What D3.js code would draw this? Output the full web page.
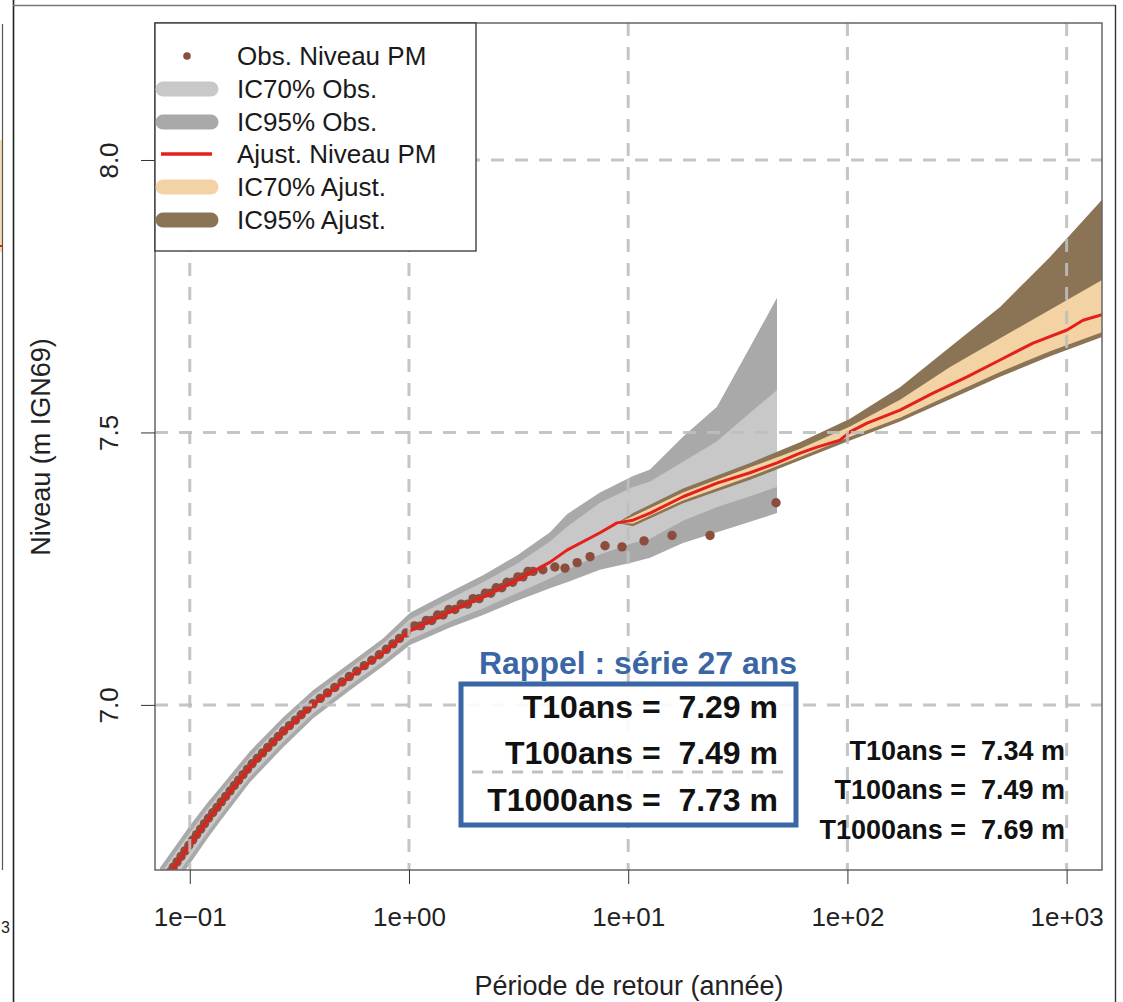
<!DOCTYPE html>
<html><head><meta charset="utf-8">
<script src="https://cdn.jsdelivr.net/npm/d3@7"></script>
<style>
body{margin:0;background:#fff}
svg text{font-family:"Liberation Sans",Arial,sans-serif}
</style>
</head><body>
<svg id="c" width="1123" height="1002"></svg>
<script>
// ---------------- DATA ----------------
const xTicks = [0.1, 1, 10, 100, 1000];
const xTickLabels = ["1e\u221201", "1e+00", "1e+01", "1e+02", "1e+03"];
const yTicks = [7.0, 7.5, 8.0];
const yTickLabels = ["7.0", "7.5", "8.0"];
const xTitle = "Période de retour (année)";
const yTitle = "Niveau (m IGN69)";

// fitted return level curve (red)
const fitT = [0.0731, 0.0829, 0.100, 0.1211, 0.1373, 0.1882, 0.2662, 0.3648, 0.538, 0.761, 1.011, 1.538, 2.176, 3.109, 4.398, 5.259, 7.436, 8.889, 10.52, 12.58, 17.78, 25.42, 35.96, 47.73, 60.78, 72.66, 92.5, 102.8, 122.9, 173.8, 245.8, 351.3, 496.8, 702.6, 1004, 1188, 1451];
const fitLevel = [6.666, 6.697, 6.743, 6.789, 6.817, 6.886, 6.949, 7.000, 7.051, 7.095, 7.136, 7.171, 7.198, 7.229, 7.262, 7.284, 7.316, 7.334, 7.339, 7.352, 7.382, 7.407, 7.426, 7.444, 7.462, 7.473, 7.486, 7.501, 7.517, 7.541, 7.572, 7.602, 7.633, 7.664, 7.688, 7.706, 7.716];

// confidence intervals of the fit
const ajT    = [8.889, 10.52, 17.78, 36.0,  60.8,  102.8, 173.8, 294,   497,   840,   1451];
const aj95Up = [7.334, 7.352, 7.397, 7.444, 7.482, 7.525, 7.583, 7.657, 7.730, 7.822, 7.927];
const aj70Up = [7.334, 7.346, 7.390, 7.436, 7.470, 7.511, 7.560, 7.620, 7.673, 7.725, 7.780];
const aj70Lo = [7.334, 7.333, 7.375, 7.419, 7.455, 7.492, 7.527, 7.569, 7.611, 7.649, 7.684];
const aj95Lo = [7.334, 7.328, 7.370, 7.413, 7.449, 7.485, 7.520, 7.561, 7.602, 7.640, 7.675];

// confidence intervals of the observations
const obsT    = [0.0731, 0.0829, 0.100, 0.1211, 0.1373, 0.1882, 0.2662, 0.3648, 0.538, 0.761, 1.011, 1.538, 2.176, 3.109, 4.398, 5.259, 7.436, 10.52, 12.58, 17.78, 25.42, 35.96, 47.73];
const obs95Up = [6.701, 6.732, 6.778, 6.822, 6.848, 6.915, 6.977, 7.027, 7.077, 7.122, 7.169, 7.207, 7.238, 7.274, 7.317, 7.350, 7.390, 7.420, 7.432, 7.492, 7.547, 7.657, 7.747];
const obs70Up = [6.688, 6.719, 6.765, 6.810, 6.837, 6.904, 6.967, 7.017, 7.067, 7.112, 7.157, 7.195, 7.225, 7.259, 7.300, 7.327, 7.371, 7.400, 7.410, 7.446, 7.484, 7.536, 7.578];
const obs70Lo = [6.644, 6.675, 6.721, 6.768, 6.797, 6.868, 6.932, 6.984, 7.036, 7.080, 7.120, 7.153, 7.177, 7.205, 7.232, 7.248, 7.276, 7.297, 7.305, 7.338, 7.363, 7.383, 7.400];
const obs95Lo = [6.631, 6.662, 6.708, 6.756, 6.786, 6.858, 6.922, 6.975, 7.027, 7.071, 7.110, 7.142, 7.165, 7.191, 7.214, 7.225, 7.248, 7.262, 7.270, 7.297, 7.317, 7.336, 7.352];

// observed high-water levels (points)
const ptT = [0.0743, 0.0774, 0.0806, 0.0840, 0.0875, 0.0912, 0.0950, 0.0990, 0.1031, 0.1074, 0.1120, 0.1167, 0.1216, 0.1272, 0.1331, 0.1392, 0.1458, 0.1526, 0.1596, 0.1671, 0.1749, 0.1832, 0.1924, 0.2032, 0.2148, 0.2269, 0.2397, 0.2534, 0.2679, 0.2849, 0.3032, 0.3223, 0.3427, 0.3648, 0.3937, 0.4247, 0.4585, 0.4947, 0.5341, 0.5779, 0.6252, 0.6765, 0.7320, 0.7880, 0.8444, 0.9050, 0.9689,
  1.06, 1.13, 1.20, 1.27, 1.35, 1.43, 1.52, 1.62, 1.73, 1.85, 1.96, 2.09, 2.23, 2.36, 2.50, 2.65, 2.80, 2.97, 3.14, 3.31, 3.49, 3.68,
  4.08, 4.63, 5.15, 5.85, 6.70, 7.84, 9.37, 11.81, 15.85, 23.62, 47.25];
const ptLevel = [6.672, 6.682, 6.692, 6.702, 6.712, 6.722, 6.732, 6.742, 6.752, 6.762, 6.772, 6.782, 6.792, 6.802, 6.812, 6.822, 6.832, 6.842, 6.852, 6.862, 6.872, 6.882, 6.892, 6.902, 6.912, 6.922, 6.932, 6.942, 6.952, 6.962, 6.972, 6.982, 6.992, 7.002, 7.012, 7.022, 7.032, 7.042, 7.052, 7.062, 7.072, 7.082, 7.092, 7.102, 7.112, 7.122, 7.132,
  7.145, 7.145, 7.155, 7.155, 7.165, 7.165, 7.175, 7.175, 7.185, 7.185, 7.195, 7.195, 7.205, 7.205, 7.215, 7.215, 7.225, 7.225, 7.235, 7.235, 7.245, 7.245,
  7.248, 7.253, 7.251, 7.261, 7.272, 7.292, 7.290, 7.301, 7.311, 7.311, 7.371];

const legendLabels = ["Obs. Niveau PM", "IC70% Obs.", "IC95% Obs.", "Ajust. Niveau PM", "IC70% Ajust.", "IC95% Ajust."];
const rappelTitle = "Rappel : série 27 ans";
const rappelLines = ["T10ans =  7.29 m", "T100ans =  7.49 m", "T1000ans =  7.73 m"];
const newLines = ["T10ans =  7.34 m", "T100ans =  7.49 m", "T1000ans =  7.69 m"];

// ---------------- STYLE ----------------
const C = {
  obs95: "#a9a9a9", obs70: "#c8c8c8", aj95: "#8b7456", aj70: "#f3d3a3",
  fit: "#e3201b", pt: "#8c4c3e", grid: "#bfbfbf", blue: "#3b66a6"
};

const svg = d3.select("#c");
svg.append("rect").attr("width", 1123).attr("height", 1002).attr("fill", "#fff");

const L = 155, R = 1102, T = 23, B = 870;
const x = d3.scaleLog().domain([0.0694, 1450]).range([L, R]);
const y = d3.scaleLinear().domain([6.697, 8.2514]).range([B, T]);

// outer frame + fragment of neighbouring chart
svg.append("rect").attr("x", 0).attr("y", 140).attr("width", 3).attr("height", 112).attr("fill", "#f6dcae");
svg.append("line").attr("x1", 0).attr("x2", 3).attr("y1", 246).attr("y2", 246).attr("stroke", "#e3201b").attr("stroke-width", 2);
svg.append("line").attr("x1", 2.5).attr("x2", 2.5).attr("y1", 24).attr("y2", 870).attr("stroke", "#555").attr("stroke-width", 1.2);
svg.append("text").attr("x", 1).attr("y", 933).attr("font-size", 16).attr("fill", "#222").text("3");
svg.append("line").attr("x1", 13.5).attr("x2", 13.5).attr("y1", 0).attr("y2", 1002).attr("stroke", "#222").attr("stroke-width", 1.6);
svg.append("line").attr("x1", 13).attr("x2", 1116).attr("y1", 5.5).attr("y2", 5.5).attr("stroke", "#777").attr("stroke-width", 1.6);
svg.append("line").attr("x1", 1115.5).attr("x2", 1115.5).attr("y1", 5).attr("y2", 1002).attr("stroke", "#333").attr("stroke-width", 1.4);

// clip
svg.append("clipPath").attr("id", "pc").append("rect").attr("x", L).attr("y", T).attr("width", R - L).attr("height", B - T);
const g = svg.append("g").attr("clip-path", "url(#pc)");

function band(ts, lo, hi) {
  return d3.area().x((d, i) => x(ts[i])).y0((d, i) => y(lo[i])).y1((d, i) => y(hi[i]))(ts);
}
g.append("path").attr("d", band(obsT, obs95Lo, obs95Up)).attr("fill", C.obs95);
g.append("path").attr("d", band(obsT, obs70Lo, obs70Up)).attr("fill", C.obs70);
g.append("path").attr("d", band(ajT, aj95Lo, aj95Up)).attr("fill", C.aj95);
g.append("path").attr("d", band(ajT, aj70Lo, aj70Up)).attr("fill", C.aj70);

g.selectAll("circle.pt").data(ptT).join("circle").attr("class", "pt")
  .attr("cx", d => x(d)).attr("cy", (d, i) => y(ptLevel[i])).attr("r", 4.7).attr("fill", C.pt);

g.append("path").attr("d", d3.line().x((d, i) => x(fitT[i])).y((d, i) => y(fitLevel[i]))(fitT))
  .attr("fill", "none").attr("stroke", C.fit).attr("stroke-width", 3).attr("stroke-linejoin", "round");

// grid (drawn over the curves, like R's grid())
const grid = svg.append("g");
grid.selectAll("line.v").data(xTicks).join("line").attr("class", "v")
  .attr("x1", d => x(d)).attr("x2", d => x(d)).attr("y1", T).attr("y2", B)
  .attr("stroke", C.grid).attr("stroke-width", 3).attr("stroke-dasharray", "13,11").attr("opacity", 0.9);
grid.selectAll("line.h").data(yTicks).join("line").attr("class", "h")
  .attr("x1", L).attr("x2", R).attr("y1", d => y(d)).attr("y2", d => y(d))
  .attr("stroke", C.grid).attr("stroke-width", 3).attr("stroke-dasharray", "13,11").attr("opacity", 0.9);

// plot box
svg.append("rect").attr("x", L).attr("y", T).attr("width", R - L).attr("height", B - T)
  .attr("fill", "none").attr("stroke", "#666").attr("stroke-width", 1.5);

// axes
const xAxis = svg.append("g").attr("transform", `translate(0,${B})`)
  .call(d3.axisBottom(x).tickValues(xTicks).tickFormat((d, i) => xTickLabels[i]).tickSize(14).tickPadding(24));
xAxis.select(".domain").remove();
xAxis.selectAll("line").attr("stroke", "#333");
xAxis.selectAll("text").attr("font-size", 26).attr("fill", "#222").attr("font-family", "Liberation Sans, Arial, sans-serif");

const yAxis = svg.append("g").attr("transform", `translate(${L},0)`)
  .call(d3.axisLeft(y).tickValues(yTicks).tickFormat((d, i) => yTickLabels[i]).tickSize(14));
yAxis.select(".domain").remove();
yAxis.selectAll("line").attr("stroke", "#333");
yAxis.selectAll("text").attr("x", null).attr("dy", null).attr("text-anchor", "middle")
  .attr("transform", "translate(-37,0) rotate(-90)").attr("font-size", 26).attr("fill", "#222")
  .attr("font-family", "Liberation Sans, Arial, sans-serif");

svg.append("text").attr("x", 629).attr("y", 995).attr("text-anchor", "middle").attr("font-size", 27).attr("fill", "#222").text(xTitle);
svg.append("text").attr("transform", "translate(50,447) rotate(-90)").attr("text-anchor", "middle").attr("font-size", 27).attr("fill", "#222").text(yTitle);

// legend
const lg = svg.append("g");
lg.append("rect").attr("x", L).attr("y", T).attr("width", 321).attr("height", 228).attr("fill", "#fff").attr("stroke", "#333").attr("stroke-width", 1.3);
const rowY = [56, 89, 122, 154, 187, 220];
const sym = [
  {type: "pt", color: C.pt},
  {type: "band", color: C.obs70},
  {type: "band", color: C.obs95},
  {type: "line", color: C.fit},
  {type: "band", color: C.aj70},
  {type: "band", color: C.aj95}
];
legendLabels.forEach((lab, i) => {
  const s = sym[i], yy = rowY[i];
  if (s.type === "pt") lg.append("circle").attr("cx", 187).attr("cy", yy).attr("r", 3.8).attr("fill", s.color);
  else if (s.type === "line") lg.append("line").attr("x1", 161).attr("x2", 212).attr("y1", yy).attr("y2", yy).attr("stroke", s.color).attr("stroke-width", 3.5);
  else lg.append("line").attr("x1", 163).attr("x2", 211).attr("y1", yy).attr("y2", yy).attr("stroke", s.color).attr("stroke-width", 15).attr("stroke-linecap", "round");
  lg.append("text").attr("x", 237).attr("y", yy).attr("dy", "0.36em").attr("font-size", 26).attr("fill", "#1a1a1a").text(lab);
});

// Rappel box (pasted from the 27-year series chart)
svg.append("text").attr("x", 479).attr("y", 674).attr("font-size", 32).attr("font-weight", "bold").attr("fill", C.blue)
  .attr("textLength", 318).attr("lengthAdjust", "spacingAndGlyphs").text(rappelTitle);
svg.append("rect").attr("x", 461).attr("y", 684).attr("width", 335).attr("height", 141)
  .attr("fill", "#fff").attr("fill-opacity", 0.9).attr("stroke", C.blue).attr("stroke-width", 5);
svg.append("line").attr("x1", x(1.94)).attr("x2", x(54.6)).attr("y1", y(6.877)).attr("y2", y(6.877))
  .attr("stroke", C.grid).attr("stroke-width", 3).attr("stroke-dasharray", "11,9");
const rpY = [718, 764, 811];
rappelLines.forEach((t, i) => {
  svg.append("text").attr("x", 778).attr("y", rpY[i]).attr("text-anchor", "end").attr("font-size", 32)
    .attr("font-weight", "bold").attr("fill", "#111").style("white-space", "pre").text(t);
});
const nwY = [760, 799, 839];
newLines.forEach((t, i) => {
  svg.append("text").attr("x", 1065).attr("y", nwY[i]).attr("text-anchor", "end").attr("font-size", 27)
    .attr("font-weight", "bold").attr("fill", "#111").style("white-space", "pre").text(t);
});
</script>
</body></html>
